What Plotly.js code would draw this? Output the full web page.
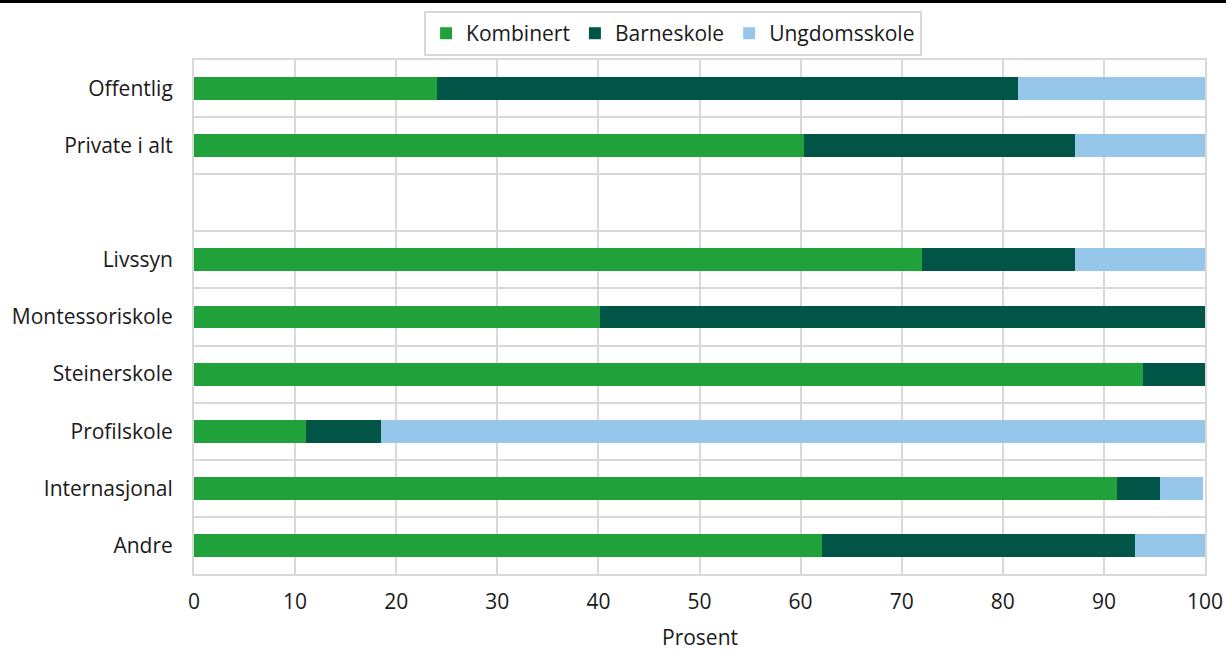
<!DOCTYPE html>
<html>
<head>
<meta charset="utf-8">
<script src="https://cdn.plot.ly/plotly-3.0.1.min.js"></script>
<style>
html,body{margin:0;padding:0;background:#fff;}
#chart{width:1226px;height:652px;}
</style>
</head>
<body>
<div id="chart"></div>
<script>
const categories = ["Offentlig", "Private i alt", " ", "Livssyn", "Montessoriskole", "Steinerskole", "Profilskole", "Internasjonal", "Andre"];
const kombinert = [24.0, 60.3, null, 72.0, 40.2, 93.9, 11.1, 91.3, 62.1];
const barneskole = [57.5, 26.8, null, 15.1, 59.8, 6.1, 7.4, 4.2, 31.0];
const ungdomsskole = [18.5, 12.9, null, 12.9, 0, 0, 81.5, 4.3, 6.9];
const seriesNames = ["Kombinert", "Barneskole", "Ungdomsskole"];
const xTickVals = [0, 10, 20, 30, 40, 50, 60, 70, 80, 90, 100];
const xTitle = "Prosent";

const colors = ["#21a139", "#005546", "#96c7eb"];
const font = "Open Sans, sans-serif";
const gridCol = "#d9d9d9";
const fs = 21;

const traces = [kombinert, barneskole, ungdomsskole].map((vals, i) => ({
  type: "bar",
  orientation: "h",
  name: seriesNames[i],
  x: vals,
  y: categories,
  width: 0.4,
  marker: {color: colors[i], line: {width: 0}},
  hoverinfo: "x+name"
}));

const layout = {
  width: 1226,
  height: 652,
  margin: {l: 194, r: 21, t: 60, b: 78, pad: 0},
  barmode: "stack",
  paper_bgcolor: "#fff",
  plot_bgcolor: "#fff",
  font: {family: font, size: fs, color: "#1a1a1a"},
  showlegend: true,
  legend: {
    orientation: "h",
    traceorder: "normal",
    x: 0.549, xref: "container", xanchor: "center",
    y: 0.983, yref: "container", yanchor: "top",
    bordercolor: gridCol, borderwidth: 2,
    font: {family: font, size: fs, color: "#1a1a1a"},
    itemwidth: 30,
    tracegroupgap: 0
  },
  xaxis: {
    range: [0, 100],
    tickvals: xTickVals,
    ticktext: xTickVals.map(String),
    showgrid: true,
    gridcolor: gridCol,
    gridwidth: 2,
    zeroline: false,
    showline: true,
    linecolor: gridCol,
    linewidth: 2,
    mirror: true,
    ticks: "outside",
    ticklen: 8,
    tickcolor: "rgba(0,0,0,0)",
    tickfont: {family: font, size: fs, color: "#1a1a1a"},
    fixedrange: true
  },
  yaxis: {
    type: "category",
    categoryorder: "array",
    categoryarray: categories,
    range: [categories.length - 0.5, -0.5],
    tickson: "boundaries",
    showgrid: true,
    gridcolor: gridCol,
    gridwidth: 2,
    showline: true,
    linecolor: gridCol,
    linewidth: 2,
    mirror: true,
    ticks: "",
    ticklabelstandoff: 15,
    tickfont: {family: font, size: fs, color: "#1a1a1a"},
    fixedrange: true
  },
  annotations: [{
    text: xTitle,
    xref: "paper", yref: "paper",
    x: 0.5, y: -78 / 514,
    xanchor: "center", yanchor: "bottom",
    borderpad: 0,
    showarrow: false,
    font: {family: font, size: fs, color: "#1a1a1a"}
  }],
  shapes: [{
    type: "line",
    xref: "paper", yref: "paper",
    x0: -194 / 1011, x1: 1032 / 1011,
    y0: (574 - 1.5) / 514, y1: (574 - 1.5) / 514,
    line: {color: "#000", width: 3}
  }]
};

Plotly.newPlot("chart", traces, layout, {displayModeBar: false, staticPlot: true});
</script>
</body>
</html>
